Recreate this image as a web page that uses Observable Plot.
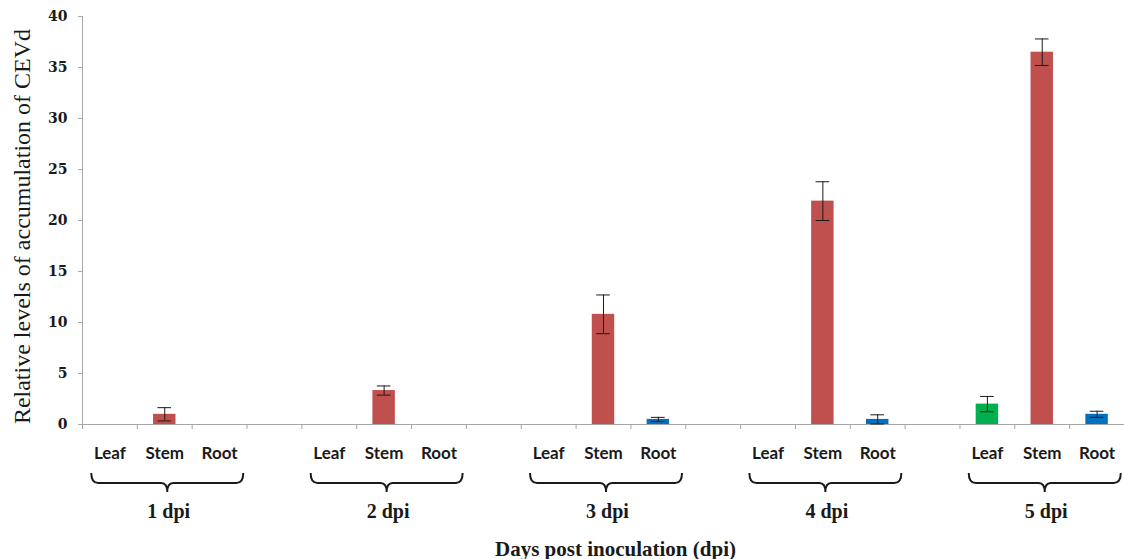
<!DOCTYPE html>
<html><head><meta charset="utf-8">
<script src="https://cdn.jsdelivr.net/npm/d3@7"></script>
<script src="https://cdn.jsdelivr.net/npm/@observablehq/plot@0.6"></script>
<style>body{margin:0;background:#fff} svg{display:block}</style>
</head><body><div id="chart"></div>
<script>
const groups = ["1 dpi", "2 dpi", "3 dpi", "4 dpi", "5 dpi"];
const organs = ["Leaf", "Stem", "Root"];
const leafValues = [0, 0, 0, 0, 2.0];
const leafErrors = [0, 0, 0, 0, 0.75];
const stemValues = [1.0, 3.33, 10.8, 21.9, 36.5];
const stemErrors = [0.65, 0.45, 1.9, 1.9, 1.3];
const rootValues = [0, 0, 0.5, 0.5, 1.0];
const rootErrors = [0, 0, 0.2, 0.45, 0.3];
const yTicks = [0, 5, 10, 15, 20, 25, 30, 35, 40];
const yTitle = "Relative levels of accumulation of CEVd";
const xTitle = "Days post inoculation (dpi)";

const valuesBy = {Leaf: leafValues, Stem: stemValues, Root: rootValues};
const errorsBy = {Leaf: leafErrors, Stem: stemErrors, Root: rootErrors};
const rows = [];
groups.forEach((g, gi) => organs.forEach((o, oi) => rows.push({
  group: g, organ: o, slot: gi * 4 + oi, value: valuesBy[o][gi], error: errorsBy[o][gi]
})));
const slots = d3.range(groups.length * 4 - 1);
const organBySlot = new Map(rows.map(d => [d.slot, d.organ]));
const groupRows = groups.map((g, gi) => ({group: g, slot: gi * 4 + 1}));
const shown = rows.filter(d => d.value > 0);

const W = 1124, H = 559, ML = 82, MR = 0, MT = 16, MB = 135;
const bw = (W - ML - MR) / slots.length;
const axisGray = "#a6a6a6";
const ink = "#1a1a1a";

const chart = Plot.plot({
  width: W, height: H, marginLeft: ML, marginRight: MR, marginTop: MT, marginBottom: MB,
  style: {background: "#fff", fontFamily: "Liberation Serif", overflow: "visible"},
  x: {type: "band", domain: slots, padding: 0, round: false, axis: null},
  y: {domain: [0, 40], axis: null},
  color: {domain: organs, range: ["#00B050", "#C0504D", "#0070C0"]},
  marks: [
    Plot.barY(shown, {x: "slot", y: "value", fill: "organ", insetLeft: 16.2, insetRight: 16.2}),
    Plot.ruleY([0], {stroke: axisGray}),
    Plot.ruleX([0], {x: d => d, y1: 0, y2: 40, dx: -bw / 2, stroke: axisGray}),
    Plot.axisX({ticks: slots, tickSize: 5, tickFormat: () => "", dx: -bw / 2, stroke: axisGray, label: null}),
    Plot.axisX({ticks: slots, tickSize: 0, tickPadding: 22, tickFormat: s => organBySlot.get(s) ?? "",
      fontFamily: "Lato", fontWeight: "bold", fontSize: 17, fill: ink, label: null}),
    Plot.axisY({ticks: yTicks, tickSize: 4, tickPadding: 11, stroke: axisGray, fill: ink,
      fontFamily: "DejaVu Serif", fontWeight: "bold", fontSize: 14, label: null}),
    Plot.ruleX(shown, {x: "slot", y1: d => d.value - d.error, y2: d => d.value + d.error, stroke: ink}),
    Plot.tickY(shown, {x: "slot", y: d => d.value + d.error, insetLeft: 20.6, insetRight: 20.6, stroke: ink}),
    Plot.tickY(shown, {x: "slot", y: d => d.value - d.error, insetLeft: 20.6, insetRight: 20.6, stroke: ink}),
    Plot.text(groupRows, {x: "slot", text: "group", frameAnchor: "bottom", dy: 87, dx: 4,
      fontWeight: "bold", fontSize: 20, fill: ink, lineAnchor: "middle"}),
    Plot.text([xTitle], {frameAnchor: "bottom", dy: 125, dx: 12, text: d => d,
      fontWeight: "bold", fontSize: 21, fill: ink, lineAnchor: "middle"}),
    Plot.text([yTitle], {frameAnchor: "left", dx: -60, dy: 6, rotate: -90, text: d => d, textAnchor: "middle",
      fontSize: 24, fill: ink, lineAnchor: "middle"})
  ]
});

// curly braces under each day group, positioned with the plot's own x scale
const xs = chart.scale("x");
const svg = d3.select(chart);
const yTop = 473, yMid = 483, yTip = 492;
groupRows.forEach(g => {
  const cx = xs.apply(g.slot) + xs.bandwidth / 2 + 3;
  const L = cx - 76, R = cx + 76;
  const p = `M${L},${yTop} Q${L},${yMid} ${L + 7},${yMid} H${cx - 6} Q${cx},${yMid} ${cx},${yTip} ` +
            `Q${cx},${yMid} ${cx + 6},${yMid} H${R - 7} Q${R},${yMid} ${R},${yTop}`;
  svg.append("path").attr("d", p).attr("fill", "none").attr("stroke", ink).attr("stroke-width", 2);
});

document.getElementById("chart").append(chart);
</script>
</body></html>
